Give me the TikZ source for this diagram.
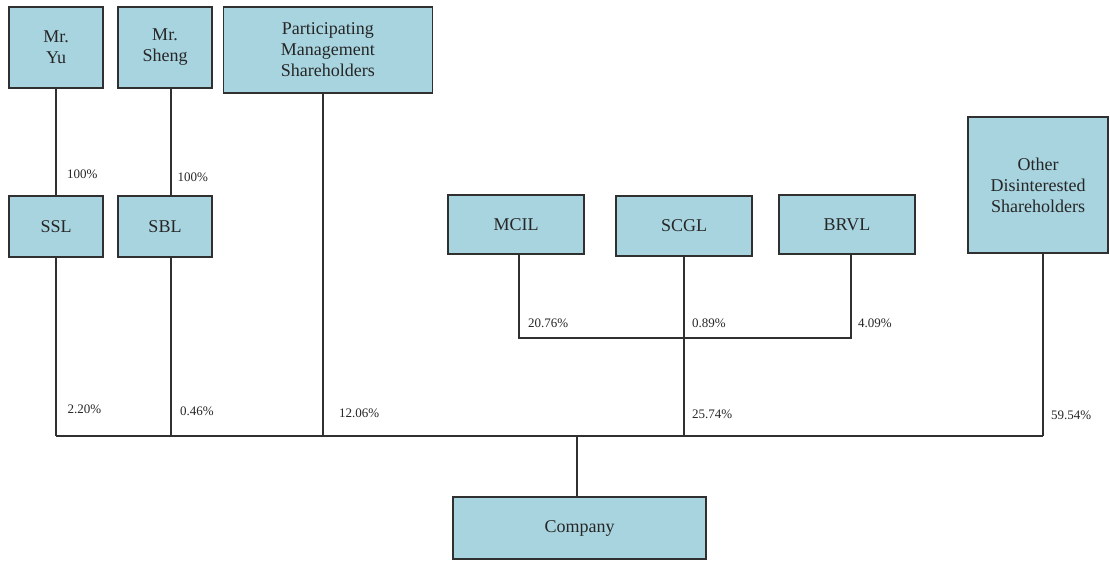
\documentclass[tikz,border=0pt]{standalone}
\usepackage{fontspec}
\setmainfont{Liberation Serif}
\definecolor{boxfill}{HTML}{A8D4E0}
\definecolor{boxline}{HTML}{303030}
\definecolor{txt}{HTML}{262626}
\begin{document}
\begin{tikzpicture}[x=1pt,y=-1pt,
  ent/.style={draw=boxline,line width=1.6pt,fill=boxfill,inner sep=0pt,align=center,
    font=\fontsize{18}{21}\selectfont,text=txt},
  pct/.style={anchor=west,inner sep=0pt,font=\fontsize{13}{14}\selectfont,text=txt},
  link/.style={draw=boxline,line width=1.4pt}]
\useasboundingbox (0,0) rectangle (1110,560);
% boxes
\node[ent,minimum width=94,minimum height=81] (yu) at (56.2,47.5) {Mr.\\Yu};
\node[ent,minimum width=94,minimum height=81] (sheng) at (165,47.5) {Mr.\\Sheng};
\node[ent,minimum width=209,minimum height=86] (pms) at (327.8,50) {Participating\\Management\\Shareholders};
\node[ent,minimum width=94,minimum height=61] (ssl) at (56.2,226.5) {SSL};
\node[ent,minimum width=94,minimum height=61] (sbl) at (165,226.5) {SBL};
\node[ent,minimum width=136,minimum height=59] (mcil) at (516,224.5) {MCIL};
\node[ent,minimum width=136,minimum height=60] (scgl) at (684,226) {SCGL};
\node[ent,minimum width=136,minimum height=59] (brvl) at (847,224.5) {BRVL};
\node[ent,minimum width=140,minimum height=136] (other) at (1038,185) {Other\\Disinterested\\Shareholders};
\node[ent,minimum width=253,minimum height=62] (company) at (579.5,528) {Company};
% line x positions
\coordinate (xyu) at (56,0);
\coordinate (xsh) at (171,0);
\coordinate (xpm) at (323,0);
\coordinate (xmc) at (519,0);
\coordinate (xsc) at (684,0);
\coordinate (xbr) at (851,0);
\coordinate (xot) at (1043,0);
\coordinate (xco) at (577,0);
\coordinate (sub) at (0,338);
\coordinate (bus) at (0,436);
% connectors
\draw[link] (yu.south -| xyu) -- (ssl.north -| xyu);
\draw[link] (sheng.south -| xsh) -- (sbl.north -| xsh);
\draw[link] (ssl.south -| xyu) -- (bus -| xyu);
\draw[link] (sbl.south -| xsh) -- (bus -| xsh);
\draw[link] (pms.south -| xpm) -- (bus -| xpm);
\draw[link] (mcil.south -| xmc) -- (sub -| xmc) -- (sub -| xbr) -- (brvl.south -| xbr);
\draw[link] (scgl.south -| xsc) -- (bus -| xsc);
\draw[link] (other.south -| xot) -- (bus -| xot);
\draw[link] (bus -| xyu) -- (bus -| xot);
\draw[link] (bus -| xco) -- (company.north -| xco);
% labels
\node[pct] (l1) at (67,174) {100\%};
\node[pct] (l2) at (177.5,177.5) {100\%};
\node[pct] (l3) at (67.5,409) {2.20\%};
\node[pct] (l4) at (180,411) {0.46\%};
\node[pct] (l5) at (339,413) {12.06\%};
\node[pct] (l6) at (692,414) {25.74\%};
\node[pct] (l7) at (1051,415) {59.54\%};
\node[pct] (l8) at (528,323) {20.76\%};
\node[pct] (l9) at (692,323) {0.89\%};
\node[pct] (l10) at (858,323) {4.09\%};
\end{tikzpicture}
\end{document}
